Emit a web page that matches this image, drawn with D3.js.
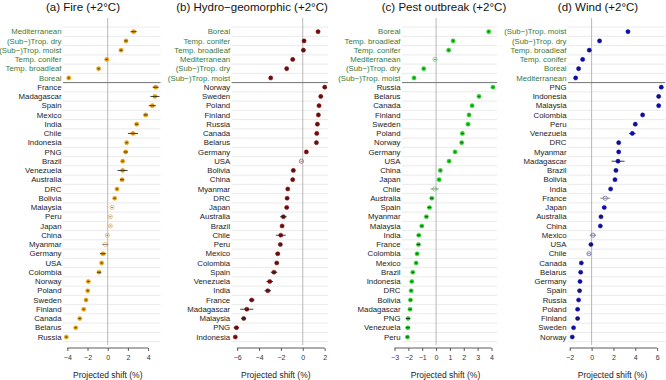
<!DOCTYPE html>
<html><head><meta charset="utf-8">
<script src="https://cdn.jsdelivr.net/npm/d3@7"></script>
<style>body{margin:0;background:#fff;} svg{display:block;font-family:"Liberation Sans",Arial,sans-serif;}</style>
</head><body>
<svg id="chart" width="666" height="380"></svg>
<script>
// ---------- DATA ----------
const fireLabels = ["Mediterranean","(Sub\u2212)Trop. dry","(Sub\u2212)Trop. moist","Temp. conifer","Temp. broadleaf","Boreal",
  "France","Madagascar","Spain","Mexico","India","Chile","Indonesia","PNG","Brazil","Venezuela","Australia","DRC","Bolivia","Malaysia","Peru","Japan","China","Myanmar","Germany","USA","Colombia","Norway","Poland","Sweden","Finland","Canada","Belarus","Russia"];
const fireValues = [2.57,1.81,1.32,-0.1,-0.9,-3.86,
  4.75,4.68,4.42,3.76,2.87,2.5,1.88,1.78,1.48,1.48,1.42,0.92,0.69,0.43,0.26,0.26,-0.04,-0.23,-0.47,-0.6,-0.86,-1.92,-1.98,-2.15,-2.38,-2.77,-3.17,-4.1];
const fireErrors = [0.3,0.15,0.12,0.1,0.1,0.1,
  0.3,0.45,0.35,0.2,0.15,0.5,0.1,0.2,0.1,0.5,0.2,0.1,0.1,0.1,0.1,0.1,0.1,0.3,0.3,0.1,0.2,0.1,0.1,0.1,0.1,0.1,0.1,0.1];
const fireOpen = ["Malaysia","Peru","Japan","China","Myanmar"];

const hydroLabels = ["Boreal","Temp. conifer","Temp. broadleaf","Mediterranean","(Sub\u2212)Trop. dry","(Sub\u2212)Trop. moist",
  "Norway","Sweden","Poland","Finland","Russia","Canada","Belarus","Germany","USA","Bolivia","China","Myanmar","DRC","Japan","Australia","Brazil","Chile","Peru","Mexico","Colombia","Spain","Venezuela","India","France","Madagascar","Malaysia","PNG","Indonesia"];
const hydroValues = [1.4,0.12,0.06,-0.92,-1.47,-2.93,
  2.01,1.65,1.49,1.43,1.34,1.28,1.25,0.33,-0.12,-0.86,-0.92,-1.37,-1.43,-1.47,-1.77,-1.89,-2.01,-2.05,-2.29,-2.38,-2.63,-3.02,-3.2,-4.67,-5.12,-5.4,-6.07,-6.17];
const hydroErrors = [0.1,0.1,0.1,0.15,0.1,0.1,
  0.1,0.1,0.1,0.1,0.1,0.1,0.1,0.1,0.1,0.1,0.1,0.1,0.1,0.15,0.3,0.1,0.45,0.1,0.2,0.15,0.3,0.3,0.3,0.25,0.6,0.2,0.25,0.1];
const hydroOpen = ["USA"];

const pestLabels = ["Boreal","Temp. broadleaf","Temp. conifer","Mediterranean","(Sub\u2212)Trop. dry","(Sub\u2212)Trop. moist",
  "Russia","Belarus","Canada","Finland","Sweden","Poland","Norway","Germany","USA","China","Japan","Chile","Australia","Spain","Myanmar","Malaysia","India","France","Colombia","Mexico","Brazil","Indonesia","DRC","Bolivia","Madagascar","PNG","Venezuela","Peru"];
const pestValues = [3.8,1.23,0.91,-0.07,-0.89,-1.59,
  4.11,3.1,2.6,2.38,2.31,1.9,1.85,1.37,0.94,0.31,0.22,-0.1,-0.31,-0.48,-0.7,-1.03,-1.25,-1.27,-1.37,-1.44,-1.68,-1.75,-1.8,-1.85,-1.88,-2.02,-2.04,-2.07];
const pestErrors = [0.05,0.05,0.05,0.08,0.05,0.05,
  0.05,0.05,0.05,0.05,0.05,0.08,0.08,0.05,0.05,0.05,0.05,0.3,0.12,0.12,0.1,0.1,0.1,0.12,0.08,0.08,0.08,0.08,0.08,0.1,0.1,0.15,0.15,0.1];
const pestOpen = ["Mediterranean","Chile"];

const windLabels = ["(Sub\u2212)Trop. moist","(Sub\u2212)Trop. dry","Temp. broadleaf","Temp. conifer","Boreal","Mediterranean",
  "PNG","Indonesia","Malaysia","Colombia","Peru","Venezuela","DRC","Myanmar","Madagascar","Brazil","Bolivia","India","France","Japan","Australia","China","Mexico","USA","Chile","Canada","Belarus","Germany","Spain","Russia","Poland","Finland","Sweden","Norway"];
const windValues = [3.33,0.73,-0.21,-0.82,-1.19,-1.46,
  6.38,6.14,6.14,4.67,4.0,3.73,2.48,2.48,2.42,2.23,2.14,1.74,1.25,1.16,0.86,0.8,0.12,-0.06,-0.24,-0.94,-1.0,-1.06,-1.1,-1.19,-1.28,-1.28,-1.65,-1.77];
const windErrors = [0.1,0.1,0.1,0.1,0.1,0.1,
  0.1,0.1,0.1,0.1,0.15,0.3,0.1,0.1,0.6,0.1,0.1,0.1,0.45,0.15,0.15,0.1,0.3,0.1,0.15,0.1,0.1,0.1,0.15,0.1,0.1,0.1,0.1,0.15];
const windOpen = ["France","Mexico","Chile"];

const panelTitles = ["(a) Fire (+2\u00B0C)","(b) Hydro\u2212geomorphic (+2\u00B0C)","(c) Pest outbreak (+2\u00B0C)","(d) Wind (+2\u00B0C)"];
const fireTicks = [-4,-2,0,2,4];
const hydroTicks = [-6,-4,-2,0,2];
const pestTicks = [-3,-2,-1,0,1,2,3,4];
const windTicks = [-2,0,2,4,6];
const biomeCount = 6;

// ---------- LAYOUT ----------
const panels = [
  {labels:fireLabels, values:fireValues, errors:fireErrors, open:fireOpen, ticks:fireTicks, color:"#e89c00", openColor:"#e8b860",
   x0:63, x1:160.5, dom:[-4.43,5.23], titleX:83},
  {labels:hydroLabels, values:hydroValues, errors:hydroErrors, open:hydroOpen, ticks:hydroTicks, color:"#7d0a0a", openColor:"#b06060",
   x0:231.7, x1:328, dom:[-6.5,2.31], titleX:252},
  {labels:pestLabels, values:pestValues, errors:pestErrors, open:pestOpen, ticks:pestTicks, color:"#1fcc1f", openColor:"#70d070",
   x0:402, x1:497, dom:[-2.46,4.4], titleX:444},
  {labels:windLabels, values:windValues, errors:windErrors, open:windOpen, ticks:windTicks, color:"#0a0ab0", openColor:"#6a6ab8",
   x0:568, x1:665, dom:[-2.16,6.72], titleX:598}
];

const svg = d3.select("#chart");
const yTop = 18, yBottom = 345;
const y = d3.scaleLinear().domain([0,33]).range([31.7,337]);
const axisY = 348;

panels.forEach((p,pi)=>{
  const g = svg.append("g");
  const x = d3.scaleLinear().domain(p.dom).range([p.x0,p.x1]);

  const gl = d3.range(-0.5, p.labels.length, 1);
  g.selectAll("line.grid").data(gl).enter().append("line")
    .attr("x1",p.x0).attr("x2",p.x1)
    .attr("y1",d=>y(d)).attr("y2",d=>y(d))
    .attr("stroke","#e4e4e4").attr("stroke-width",0.8);

  g.append("line").attr("x1",x(0)).attr("x2",x(0)).attr("y1",yTop).attr("y2",yBottom)
    .attr("stroke","#b8b8b8").attr("stroke-width",1);

  g.append("line").attr("x1",p.x0).attr("x2",p.x1)
    .attr("y1",y(biomeCount-0.5)).attr("y2",y(biomeCount-0.5))
    .attr("stroke","#777").attr("stroke-width",1);

  g.selectAll("text.lab").data(p.labels).enter().append("text")
    .attr("x",p.x0-1.5).attr("y",(d,i)=>y(i)).attr("dy","0.35em")
    .attr("text-anchor","end").attr("font-size",7.8)
    .attr("fill",(d,i)=> i<biomeCount ? "#3a7a3a" : "#222")
    .text(d=>d);

  const rows = p.labels.map((l,i)=>({label:l, v:p.values[i], e:p.errors[i], i, open:p.open.includes(l)}));

  g.selectAll("circle.pt").data(rows).enter().append("circle")
    .attr("cx",d=>x(d.v)).attr("cy",d=>y(d.i)).attr("r",2.1)
    .attr("fill",d=>d.open?"none":p.color)
    .attr("stroke",d=>d.open?p.openColor:p.color).attr("stroke-width",d=>d.open?0.8:0.5);

  g.selectAll("line.err").data(rows).enter().append("line")
    .attr("x1",d=>x(d.v-d.e)).attr("x2",d=>x(d.v+d.e))
    .attr("y1",d=>y(d.i)).attr("y2",d=>y(d.i))
    .attr("stroke",d=>d.open?"#777":"#222").attr("stroke-width",1).attr("opacity",0.85);

  const ax = g.append("g").attr("transform",`translate(0,${axisY})`)
    .call(d3.axisBottom(x).tickValues(p.ticks).tickSize(3).tickSizeOuter(0)
      .tickFormat(d=> d<0 ? "\u2212"+Math.abs(d) : String(d)));
  ax.select(".domain").remove();
  ax.append("line").attr("x1",x(p.ticks[0])).attr("x2",x(p.ticks[p.ticks.length-1]))
    .attr("stroke","#333").attr("stroke-width",0.8);
  ax.selectAll(".tick line").attr("stroke","#333").attr("stroke-width",0.8);
  ax.selectAll(".tick text").attr("font-size",7).attr("fill","#333").attr("dy","0.9em")
    .attr("font-family","'Liberation Sans',Arial,sans-serif");

  g.append("text").attr("x",(p.x0+p.x1)/2 - 4).attr("y",378)
    .attr("text-anchor","middle").attr("font-size",8.5).attr("fill","#222")
    .text("Projected shift (%)");

  g.append("text").attr("x",p.titleX).attr("y",11)
    .attr("text-anchor","middle").attr("font-size",11.5).attr("fill","#111")
    .text(panelTitles[pi]);
});
</script>
</body></html>
